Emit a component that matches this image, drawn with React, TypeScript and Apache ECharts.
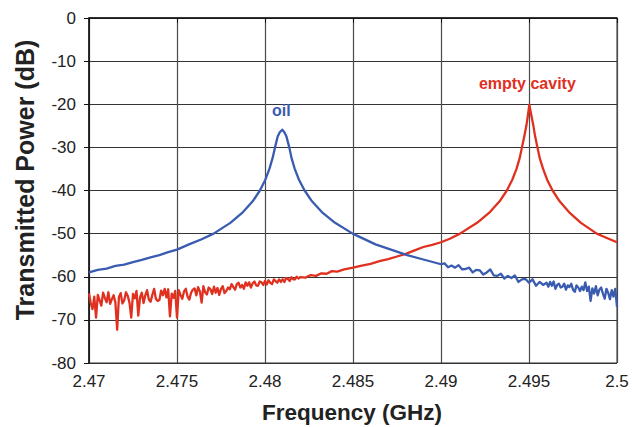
import React, { useEffect, useRef } from "react";
import * as echarts from "echarts";

const xTickLabels = ["2.47", "2.475", "2.48", "2.485", "2.49", "2.495", "2.5"];

// Red (empty cavity) — noisy low-frequency part
const redNoiseFreq = [
  2.4700, 2.4701, 2.4702, 2.4703, 2.4704, 2.4705, 2.4706, 2.4707, 2.4708, 2.4709,
  2.4710, 2.4711, 2.4712, 2.4713, 2.4714, 2.4715, 2.4716, 2.4717, 2.4718, 2.4719,
  2.4720, 2.4721, 2.4722, 2.4723, 2.4724, 2.4725, 2.4726, 2.4727, 2.4728, 2.4729,
  2.4730, 2.4731, 2.4732, 2.4733, 2.4734, 2.4735, 2.4736, 2.4737, 2.4738, 2.4739,
  2.4740, 2.4741, 2.4742, 2.4743, 2.4744, 2.4745, 2.4746, 2.4747, 2.4748, 2.4749,
  2.4750, 2.4751, 2.4752, 2.4753, 2.4754, 2.4755, 2.4756, 2.4757, 2.4758, 2.4759,
  2.4760, 2.4761, 2.4762, 2.4763, 2.4764, 2.4765, 2.4766, 2.4767, 2.4768, 2.4769,
  2.4770, 2.4771, 2.4772, 2.4773, 2.4774, 2.4775, 2.4776, 2.4777, 2.4778, 2.4779,
  2.4780, 2.4781, 2.4782, 2.4783, 2.4784, 2.4785, 2.4786, 2.4787, 2.4788, 2.4789,
  2.4790, 2.4791, 2.4792, 2.4793, 2.4794, 2.4795, 2.4796, 2.4797, 2.4798, 2.4799,
  2.4800, 2.4801, 2.4802, 2.4803, 2.4804, 2.4805, 2.4806, 2.4807, 2.4808, 2.4809,
  2.4810, 2.4811, 2.4812, 2.4813, 2.4814, 2.4815, 2.4816, 2.4817, 2.4818, 2.4819,
  2.4820,
];
const redNoisePower = [
  -63.9, -66.1, -67.5, -64.6, -69.5, -64.2, -65.4, -66.7, -63.7, -64.9,
  -65.9, -63.6, -66.3, -65.2, -64.3, -66.0, -72.3, -64.7, -63.8, -66.2,
  -65.5, -63.6, -64.4, -66.0, -69.5, -64.0, -65.0, -63.3, -69.0, -64.8,
  -63.7, -66.1, -64.3, -63.1, -65.3, -65.8, -64.2, -62.8, -65.1, -65.6,
  -65.4, -63.2, -64.3, -62.8, -64.8, -62.9, -69.2, -63.9, -64.9, -63.3,
  -69.5, -63.1, -64.2, -65.1, -63.4, -62.8, -64.6, -65.3, -63.7, -63.0,
  -62.7, -64.3, -62.4, -63.4, -66.0, -62.2, -63.6, -64.1, -62.5, -62.9,
  -64.0, -62.3, -63.7, -62.6, -64.2, -62.8, -62.2, -63.8, -63.3, -62.5,
  -62.9, -61.7, -62.4, -63.0, -61.7, -61.4, -62.5, -61.9, -62.8, -61.3,
  -62.1, -61.3, -62.5, -61.5, -61.1, -62.0, -62.1, -61.1, -61.3, -61.9,
  -61.0, -61.8, -60.8, -61.4, -61.7, -60.6, -61.0, -61.4, -60.6, -61.2,
  -60.6, -61.2, -60.3, -60.5, -61.0, -60.1, -60.6, -60.6, -60.0, -60.4,
  -60.1,
];

// Red — rising ramp
const redRampFreq = [
  2.4823, 2.4826, 2.4829, 2.4832, 2.4835, 2.4838, 2.4841, 2.4845, 2.4850, 2.4855,
  2.4860, 2.4865, 2.4870, 2.4875, 2.4880, 2.4885, 2.4890, 2.4895, 2.4900,
];
const redRampPower = [
  -60.2, -59.6, -59.8, -59.2, -59.3, -58.7, -58.8, -58.3, -57.9, -57.4,
  -57.0, -56.4, -55.9, -55.3, -54.7, -53.9, -53.1, -52.6, -52.0,
];

// Red — resonance
const redPeakFreq = [
  2.4905, 2.49108, 2.49205, 2.49278, 2.49333, 2.49374, 2.49405, 2.49429, 2.49447, 2.4946,
  2.49473, 2.49485, 2.49494, 2.49502, 2.49513, 2.49525, 2.49535, 2.49548, 2.49561, 2.4958,
  2.49603, 2.49634, 2.49674, 2.49727, 2.49795, 2.49885, 2.49942, 2.5000,
];
const redPeakPower = [
  -51.2, -50.0, -47.5, -45.0, -42.5, -40.0, -37.5, -35.0, -32.5, -30.0,
  -27.5, -25.0, -22.5, -20.1, -22.5, -25.0, -27.5, -30.0, -32.5, -35.0,
  -37.5, -40.0, -42.5, -45.0, -47.5, -50.0, -51.0, -52.0,
];

// Blue (oil) — resonance and smooth tails
const blueMainFreq = [
  2.4700, 2.4705, 2.4710, 2.4715, 2.4720, 2.4725, 2.4730, 2.4735, 2.4740, 2.4745,
  2.4750, 2.47568, 2.4764, 2.47708, 2.47803, 2.47875, 2.4793, 2.47971, 2.48002, 2.48025,
  2.48043, 2.48057, 2.48072, 2.48084, 2.48098, 2.4811, 2.48122, 2.48138, 2.48151, 2.48169,
  2.48193, 2.48225, 2.48267, 2.48323, 2.48398, 2.48498, 2.48628, 2.48808, 2.4890, 2.4900,
];
const blueMainPower = [
  -59.0, -58.4, -58.1, -57.5, -57.2, -56.6, -56.1, -55.5, -55.0, -54.3,
  -53.7, -52.5, -51.3, -50.0, -47.5, -45.0, -42.5, -40.0, -37.5, -35.0,
  -32.5, -30.0, -27.5, -26.5, -25.9, -26.5, -27.5, -30.0, -32.5, -35.0,
  -37.5, -40.0, -42.5, -45.0, -47.5, -50.0, -52.5, -55.0, -56.0, -57.1,
];

// Blue — noisy high-frequency tail
const blueNoiseFreq = [
  2.4902, 2.4904, 2.4906, 2.4908, 2.4910, 2.4912, 2.4914, 2.4916, 2.4918, 2.4920,
  2.4922, 2.4924, 2.4926, 2.4928, 2.4930, 2.4932, 2.4934, 2.4936, 2.4938, 2.4940,
  2.4942, 2.4944, 2.4946, 2.4948, 2.4950, 2.4952, 2.4954, 2.4956, 2.4958, 2.4960,
  2.4961, 2.4962, 2.4963, 2.4964, 2.4965, 2.4966, 2.4967, 2.4968, 2.4969, 2.4970,
  2.4971, 2.4972, 2.4973, 2.4974, 2.4975, 2.4976, 2.4977, 2.4978, 2.4979, 2.4980,
  2.4981, 2.4982, 2.4983, 2.4984, 2.4985, 2.4986, 2.4987, 2.4988, 2.4989, 2.4990,
  2.4991, 2.4992, 2.4993, 2.4994, 2.4995, 2.4996, 2.4997, 2.4998, 2.4999, 2.5000,
];
const blueNoisePower = [
  -56.9, -57.8, -57.4, -57.9, -57.3, -58.3, -58.2, -57.9, -59.0, -58.4,
  -58.5, -59.5, -59.0, -58.3, -59.7, -59.8, -59.3, -60.4, -59.8, -60.3,
  -59.7, -61.2, -60.6, -60.5, -61.4, -60.6, -62.1, -61.2, -61.9, -61.4,
  -62.3, -61.2, -62.1, -61.1, -62.8, -61.9, -61.6, -62.5, -62.3, -61.6,
  -63.0, -62.0, -62.4, -61.6, -63.0, -63.5, -62.0, -62.5, -63.3, -62.3,
  -63.1, -61.3, -63.3, -62.3, -65.6, -62.7, -63.9, -62.2, -64.3, -63.0,
  -62.5, -63.9, -65.1, -62.8, -63.7, -65.2, -63.1, -64.6, -62.8, -67.0,
];

const RED = "#e0301f";
const BLUE = "#3a5cb0";

const pairs = (xs: number[], ys: number[]) => xs.map((x, i) => [x, ys[i]]);

export default function App() {
  const ref = useRef<HTMLDivElement>(null);
  useEffect(() => {
    document.body.style.margin = "0";
    if (!ref.current) return;
    const chart = echarts.init(ref.current, null, { renderer: "svg" });
    const font = "'Liberation Sans', Arial, Helvetica, sans-serif";
    const redData = [
      ...pairs(redNoiseFreq, redNoisePower),
      ...pairs(redRampFreq, redRampPower),
      ...pairs(redPeakFreq, redPeakPower),
    ];
    const blueData = [
      ...pairs(blueMainFreq, blueMainPower),
      ...pairs(blueNoiseFreq, blueNoisePower),
    ];
    chart.setOption({
      animation: false,
      backgroundColor: "#ffffff",
      grid: {
        left: 89,
        right: 15,
        top: 18,
        bottom: 64,
        show: true,
        borderColor: "#333",
        borderWidth: 1,
      },
      xAxis: {
        type: "value",
        min: 2.47,
        max: 2.5,
        interval: 0.005,
        axisLine: { show: true, lineStyle: { color: "#111", width: 1.5 } },
        axisTick: { show: true, length: 5, lineStyle: { color: "#111" } },
        axisLabel: {
          color: "#222",
          fontSize: 17,
          fontFamily: font,
          margin: 10,
          formatter: (v: number) => {
            const i = Math.round((v - 2.47) / 0.005);
            return xTickLabels[i] ?? "";
          },
        },
        splitLine: { show: true, lineStyle: { color: "#4a4a4a", width: 1.2 } },
      },
      yAxis: {
        type: "value",
        min: -80,
        max: 0,
        interval: 10,
        axisLine: { show: true, lineStyle: { color: "#111", width: 1.5 } },
        axisTick: { show: true, length: 5, lineStyle: { color: "#111" } },
        axisLabel: {
          color: "#222",
          fontSize: 17,
          fontFamily: font,
          margin: 13,
        },
        splitLine: { show: true, lineStyle: { color: "#333", width: 1.2 } },
      },
      graphic: [
        {
          type: "text",
          x: 25,
          y: 180,
          rotation: Math.PI / 2,
          style: {
            text: "Transmitted Power (dB)",
            font: `bold 25px ${font}`,
            fill: "#222",
            align: "center",
            verticalAlign: "middle",
          },
        },
        {
          type: "text",
          x: 352,
          y: 412,
          style: {
            text: "Frequency (GHz)",
            font: `bold 22.5px ${font}`,
            fill: "#222",
            align: "center",
            verticalAlign: "middle",
          },
        },
      ],
      series: [
        {
          name: "empty cavity",
          type: "line",
          showSymbol: false,
          data: redData,
          lineStyle: { color: RED, width: 2.3, join: "round" },
          itemStyle: { color: RED },
          markPoint: {
            symbol: "circle",
            symbolSize: 0,
            data: [
              {
                coord: [2.49502, -20.1],
                label: {
                  show: true,
                  formatter: "empty cavity",
                  position: "top",
                  distance: 13,
                  offset: [-2, 0],
                  color: RED,
                  fontWeight: "bold",
                  fontSize: 16,
                  fontFamily: font,
                },
              },
            ],
          },
        },
        {
          name: "oil",
          type: "line",
          showSymbol: false,
          data: blueData,
          lineStyle: { color: BLUE, width: 2.3, join: "round" },
          itemStyle: { color: BLUE },
          markPoint: {
            symbol: "circle",
            symbolSize: 0,
            data: [
              {
                coord: [2.48098, -25.9],
                label: {
                  show: true,
                  formatter: "oil",
                  position: "top",
                  distance: 11,
                  offset: [-1, 0],
                  color: BLUE,
                  fontWeight: "bold",
                  fontSize: 16,
                  fontFamily: font,
                },
              },
            ],
          },
        },
      ],
    });
    return () => chart.dispose();
  }, []);
  return (
    <div
      ref={ref}
      style={{ position: "fixed", left: 0, top: 0, width: 632, height: 427 }}
    />
  );
}
